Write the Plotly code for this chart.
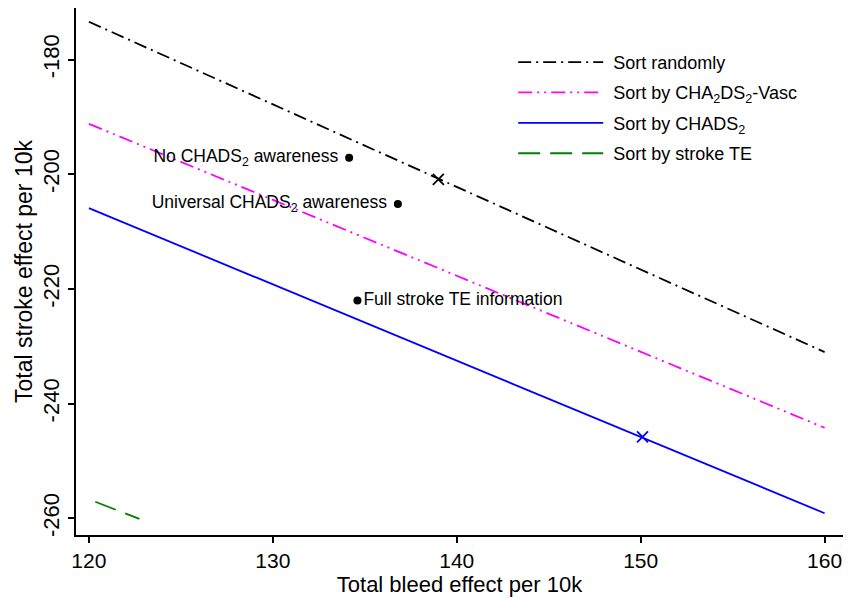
import plotly.graph_objects as go

# Line endpoints (bleed, stroke)
rand_x = [120, 160]
rand_y = [-173.4, -231.0]
vasc_x = [120, 160]
vasc_y = [-191.2, -244.2]
chads_x = [120, 160]
chads_y = [-205.9, -259.1]
te_x = [120.35, 122.75]
te_y = [-257.1, -260.1]

# Labelled scenario points
pt_x = [134.15, 136.8, 134.6]
pt_y = [-197.1, -205.2, -222.0]
pt_labels = ["No CHADS<sub>2</sub> awareness ", "Universal CHADS<sub>2</sub> awareness ",
             "Full stroke TE information"]
pt_pos = ["middle left", "middle left", "middle right"]

# Cross markers
xmark_black = ([139.0], [-200.9])
xmark_blue = ([150.1], [-245.8])

x_ticks = [120, 130, 140, 150, 160]
y_ticks = [-180, -200, -220, -240, -260]
y_ticktext = ["-180", "-200", "-220", "-240", "-260"]

FONT = "Liberation Sans, Arial, sans-serif"
LW = 1.8

fig = go.Figure()
fig.add_trace(go.Scatter(x=rand_x, y=rand_y, mode="lines", name="\u00a0Sort randomly", legendgroup="a",
                         line=dict(color="black", width=LW, dash="13px,5px,2px,5px")))
fig.add_trace(go.Scatter(x=vasc_x, y=vasc_y, mode="lines",
                         name="\u00a0Sort by CHA<sub>2</sub>DS<sub>2</sub>-Vasc", legendgroup="b",
                         line=dict(color="#ff00ff", width=LW, dash="14px,5px,2px,5px,2px,5px")))
fig.add_trace(go.Scatter(x=chads_x, y=chads_y, mode="lines", name="\u00a0Sort by CHADS<sub>2</sub>",
                         legendgroup="c", line=dict(color="#0000ff", width=LW)))
fig.add_trace(go.Scatter(x=te_x, y=te_y, mode="lines", name="\u00a0Sort by stroke TE", legendgroup="d",
                         line=dict(color="#008000", width=LW, dash="22px,10px")))
fig.add_trace(go.Scatter(x=pt_x, y=pt_y, mode="markers+text", text=pt_labels,
                         textposition=pt_pos, showlegend=False,
                         textfont=dict(size=17.5, color="black", family=FONT),
                         marker=dict(color="black", size=8)))
fig.add_trace(go.Scatter(x=xmark_black[0], y=xmark_black[1], mode="markers", showlegend=False,
                         marker=dict(symbol="x-thin", size=11, line=dict(color="black", width=1.8))))
fig.add_trace(go.Scatter(x=xmark_blue[0], y=xmark_blue[1], mode="markers", showlegend=False,
                         marker=dict(symbol="x-thin", size=11, line=dict(color="#0000ff", width=1.8))))

fig.update_layout(
    width=852, height=598,
    margin=dict(l=76, r=9, t=8, b=58),
    plot_bgcolor="white", paper_bgcolor="white",
    font=dict(family=FONT, color="black"),
    legend=dict(x=0.570, y=0.932, xanchor="left", yanchor="top",
                font=dict(size=18, family=FONT), itemwidth=85,
                bgcolor="rgba(0,0,0,0)", tracegroupgap=4),
    xaxis=dict(range=[119.3, 161.0], tickvals=x_ticks, showgrid=False, zeroline=False,
               showline=True, linecolor="black", linewidth=1.6, ticks="outside",
               ticklen=6, tickwidth=1.6, tickcolor="black",
               tickfont=dict(size=21, family=FONT),
               title=dict(text="Total bleed effect per 10k", font=dict(size=22, family=FONT), standoff=3)),
    yaxis=dict(range=[-262.9, -171.0], tickvals=y_ticks, ticktext=y_ticktext, showgrid=False, zeroline=False,
               showline=True, linecolor="black", linewidth=1.6, ticks="outside",
               ticklen=6, tickwidth=1.6, tickcolor="black", tickangle=-90,
               tickfont=dict(size=22, family=FONT),
               title=dict(text="Total stroke effect per 10k", font=dict(size=23, family=FONT), standoff=0)),
)

fig.write_html("out.html")
